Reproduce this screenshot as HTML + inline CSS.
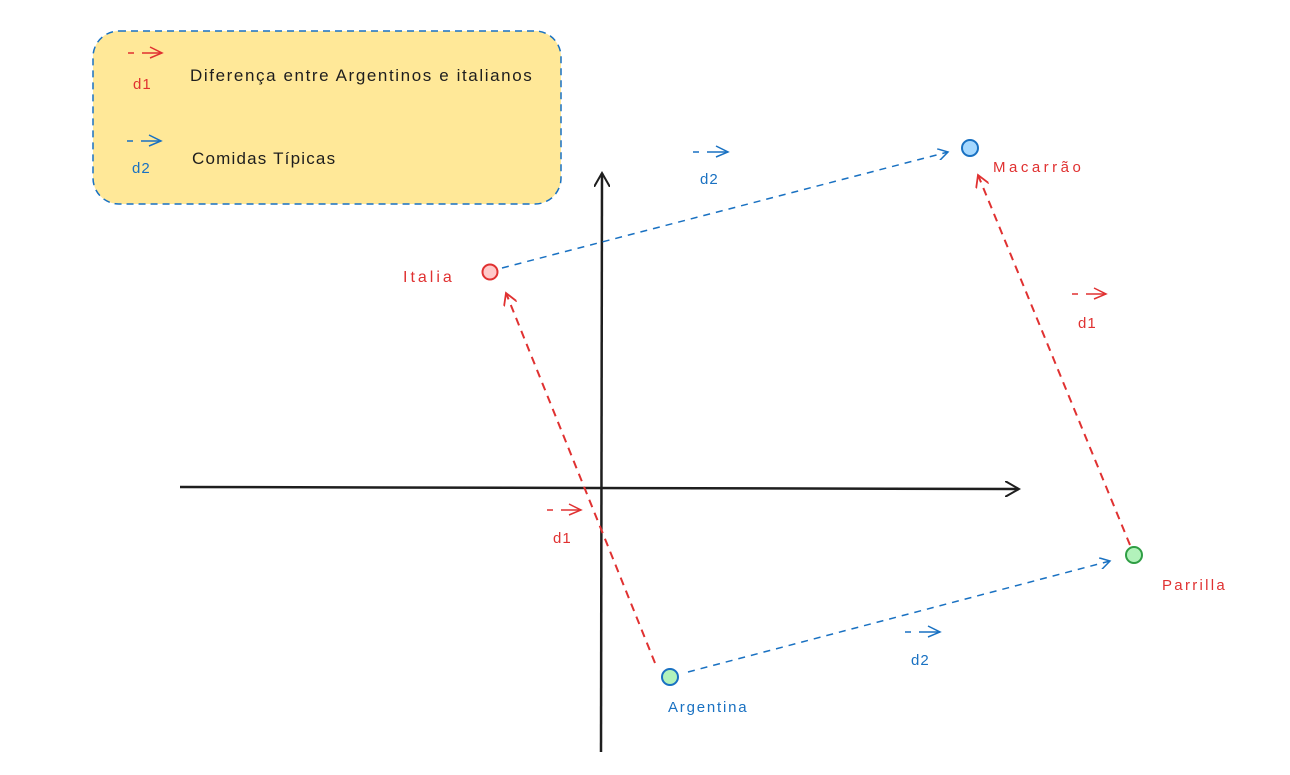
<!DOCTYPE html>
<html><head><meta charset="utf-8"><style>
html,body{margin:0;padding:0;background:#fff;width:1290px;height:775px;overflow:hidden}
svg text{font-family:"Liberation Sans",sans-serif}
</style></head><body>
<svg width="1290" height="775" viewBox="0 0 1290 775" xmlns="http://www.w3.org/2000/svg">
<defs>
<marker id="ab" markerWidth="12" markerHeight="12" refX="10" refY="6" orient="auto" markerUnits="userSpaceOnUse"><path d="M0,0 L10,6 L0,12" fill="none" stroke="#1971c2" stroke-width="1.5"/></marker>
<marker id="ar" markerWidth="14" markerHeight="14" refX="12" refY="7" orient="auto" markerUnits="userSpaceOnUse"><path d="M0,0 L12,7 L0,14" fill="none" stroke="#e03131" stroke-width="1.8"/></marker>
<marker id="ak" markerWidth="16" markerHeight="16" refX="14" refY="8" orient="auto" markerUnits="userSpaceOnUse"><path d="M0,0 L14,8 L0,16" fill="none" stroke="#1e1e1e" stroke-width="2"/></marker>
</defs>
<rect x="93" y="31" width="468" height="173" rx="26" fill="#ffe898" stroke="#1971c2" stroke-width="1.5" stroke-dasharray="7,5"/>
<g stroke="#e03131" stroke-width="1.5" fill="none"><line x1="128" y1="53" x2="134" y2="53"/><line x1="142" y1="53" x2="162" y2="53"/><path d="M150,47 L162,53 L150,58"/></g>
<text x="133" y="89" font-size="15" fill="#e03131" letter-spacing="1">d1</text>
<text x="190" y="81" font-size="17" fill="#1e1e1e" letter-spacing="1.6">Diferença entre Argentinos e italianos</text>
<g stroke="#1971c2" stroke-width="1.5" fill="none"><line x1="127" y1="141" x2="133" y2="141"/><line x1="141" y1="141" x2="161" y2="141"/><path d="M149,135 L161,141 L149,146"/></g>
<text x="132" y="173" font-size="15" fill="#1971c2" letter-spacing="1">d2</text>
<text x="192" y="164" font-size="17" fill="#1e1e1e" letter-spacing="1.2">Comidas Típicas</text>

<line x1="601" y1="752" x2="602" y2="173" stroke="#1e1e1e" stroke-width="2.5" marker-end="url(#ak)"/>
<line x1="180" y1="487" x2="1019" y2="489" stroke="#1e1e1e" stroke-width="2.5" marker-end="url(#ak)"/>

<line x1="502" y1="268" x2="948" y2="152" stroke="#1971c2" stroke-width="1.5" stroke-dasharray="7,6" marker-end="url(#ab)"/>
<line x1="688" y1="672" x2="1110" y2="561" stroke="#1971c2" stroke-width="1.5" stroke-dasharray="7,6" marker-end="url(#ab)"/>
<line x1="655" y1="663" x2="506" y2="293" stroke="#e03131" stroke-width="2" stroke-dasharray="8,6" marker-end="url(#ar)"/>
<line x1="1130" y1="545" x2="978" y2="175" stroke="#e03131" stroke-width="2" stroke-dasharray="8,6" marker-end="url(#ar)"/>

<circle cx="490" cy="272" r="7.5" fill="#ffc9c9" stroke="#e03131" stroke-width="2"/>
<circle cx="970" cy="148" r="8" fill="#a5d8ff" stroke="#1971c2" stroke-width="2"/>
<circle cx="1134" cy="555" r="8" fill="#b2f2bb" stroke="#2f9e44" stroke-width="2"/>
<circle cx="670" cy="677" r="8" fill="#b2f2bb" stroke="#1971c2" stroke-width="2"/>

<text x="403" y="282" font-size="16" fill="#e03131" letter-spacing="3">Italia</text>
<text x="993" y="172" font-size="15" fill="#e03131" letter-spacing="3.5">Macarrão</text>
<text x="1162" y="590" font-size="15" fill="#e03131" letter-spacing="2.3">Parrilla</text>
<text x="668" y="712" font-size="15" fill="#1971c2" letter-spacing="1.8">Argentina</text>

<g stroke="#1971c2" stroke-width="1.5" fill="none"><line x1="693" y1="152" x2="699" y2="152"/><line x1="707" y1="152" x2="728" y2="152"/><path d="M716,146 L728,152 L716,157"/></g>
<text x="700" y="184" font-size="15" fill="#1971c2" letter-spacing="1">d2</text>
<g stroke="#e03131" stroke-width="1.5" fill="none"><line x1="1072" y1="294" x2="1078" y2="294"/><line x1="1086" y1="294" x2="1106" y2="294"/><path d="M1094,288 L1106,294 L1094,299"/></g>
<text x="1078" y="328" font-size="15" fill="#e03131" letter-spacing="1">d1</text>
<g stroke="#e03131" stroke-width="1.5" fill="none"><line x1="547" y1="510" x2="553" y2="510"/><line x1="561" y1="510" x2="581" y2="510"/><path d="M569,504 L581,510 L569,515"/></g>
<text x="553" y="543" font-size="15" fill="#e03131" letter-spacing="1">d1</text>
<g stroke="#1971c2" stroke-width="1.5" fill="none"><line x1="905" y1="632" x2="911" y2="632"/><line x1="919" y1="632" x2="940" y2="632"/><path d="M928,626 L940,632 L928,637"/></g>
<text x="911" y="665" font-size="15" fill="#1971c2" letter-spacing="1">d2</text>
</svg>
</body></html>
